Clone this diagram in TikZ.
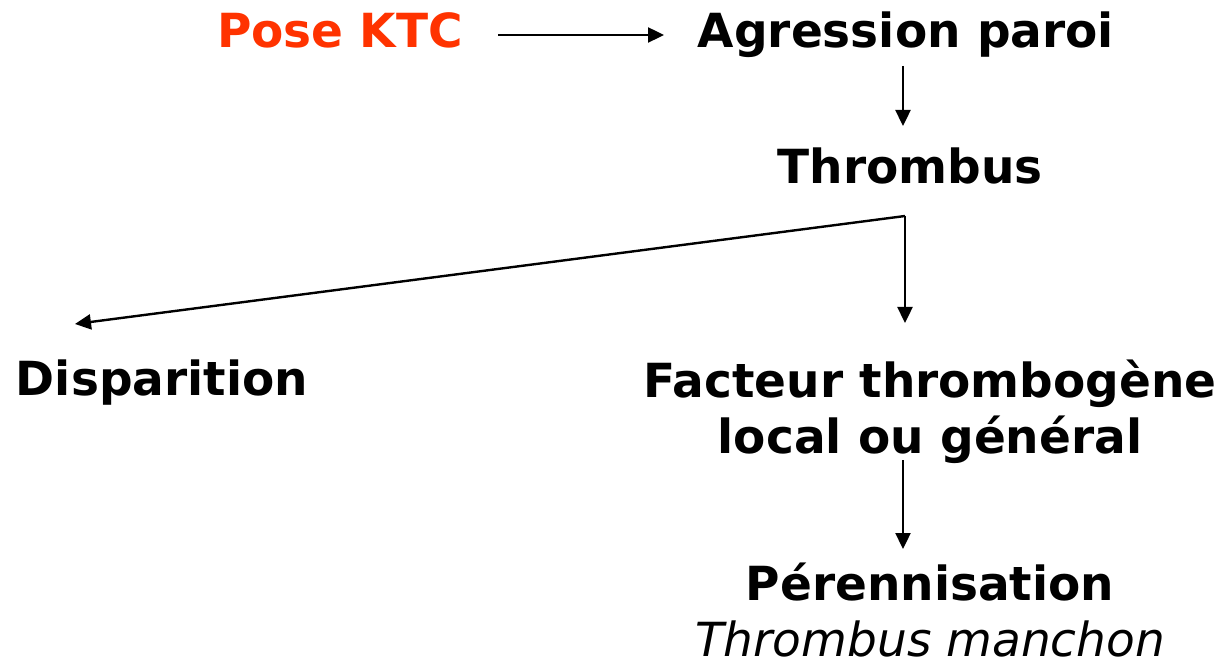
\documentclass[tikz,border=0pt]{standalone}
\usepackage{fontspec}
\setmainfont{DejaVu Sans}
\usetikzlibrary{arrows.meta}
\definecolor{ktcred}{HTML}{FF3300}
\tikzset{
  lbl/.style={font=\fontsize{23.5pt}{28pt}\selectfont\bfseries, inner sep=0pt, anchor=base, align=center},
  arr/.style={-{Triangle[length=8pt,width=7.5pt]}, line width=1.2pt}
}
\begin{document}
\begin{tikzpicture}[x=0.5pt,y=0.5pt]
\useasboundingbox (0,0) rectangle (1227,-668);
% nodes
\node[lbl, text=ktcred] (pose) at (340,-48) {Pose KTC};
\node[lbl] (agr) at (906,-48) {Agression paroi};
\node[lbl] (thr) at (910,-184) {Thrombus};
\node[lbl] (disp) at (162,-395) {Disparition};
\node[lbl] (fact) at (930,-453) {Facteur thrombogène\\local ou général};
\node[lbl] (per) at (930,-656) {Pérennisation\\{\mdseries\itshape Thrombus manchon}};
% free ends
\coordinate (posout) at (498,-35);
\coordinate (agrin) at (664,-35);
\coordinate (agrout) at (903,-66);
\coordinate (thrin) at (903,-126);
\coordinate (fork) at (905,-216);
\coordinate (dispin) at (75,-324);
\coordinate (factin) at (905,-323);
\coordinate (factout) at (903,-460);
\coordinate (perin) at (903,-549);
% connectors
\draw[arr] (posout) -- (agrin);
\draw[arr] (agrout) -- (thrin);
\draw[arr] (fork) -- (dispin);
\draw[arr] (fork) -- (factin);
\draw[arr] (factout) -- (perin);
\end{tikzpicture}
\end{document}
